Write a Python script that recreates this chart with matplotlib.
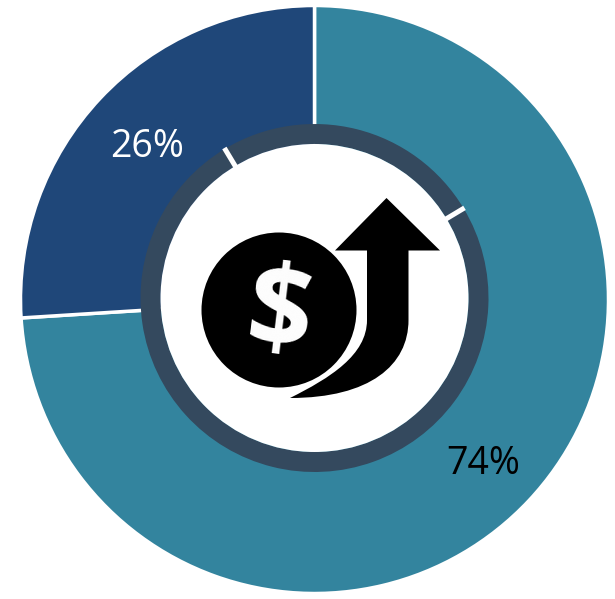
import matplotlib
matplotlib.use("Agg")
import matplotlib.pyplot as plt
import numpy as np
from matplotlib.patches import Circle, PathPatch
from matplotlib.path import Path

plt.rcParams['font.family'] = ['Open Sans', 'DejaVu Sans']

# share values
share_values = [74, 26]
share_labels = ['74%', '26%']
share_colors = ['#33849E', '#1F4779']
label_colors = ['black', 'white']

# thin ring round the icon, one quarter / three quarters
ring_values = [25, 75]

W, H = 615, 599


def py(y):
    # picture y (from the top) to axes y
    return H - y


fig = plt.figure(figsize=(W / 100, H / 100), dpi=100)
ax = fig.add_axes([0, 0, 1, 1])

# main doughnut
ax.pie(share_values, colors=share_colors, startangle=90, counterclock=False,
       center=(314.5, py(299.5)), radius=294, frame=False,
       wedgeprops={'edgecolor': 'white', 'linewidth': 2.5})

# ring and the white middle
ring_center = (314.5, py(298))
ring_outer, ring_inner = 174, 154
wedges, _ = ax.pie(ring_values, colors=['#34495E', '#34495E'], startangle=121,
                   counterclock=False, center=ring_center, radius=ring_outer,
                   frame=False, wedgeprops={'width': ring_outer - ring_inner, 'linewidth': 0})
ax.add_patch(Circle(ring_center, ring_inner, fc='white', ec='none', zorder=2))

# white cuts in the ring where the slices meet
for w in wedges:
    a = np.deg2rad(w.theta1)
    ax.plot([ring_center[0] + (ring_inner - 1) * np.cos(a), ring_center[0] + (ring_outer + 1) * np.cos(a)],
            [ring_center[1] + (ring_inner - 1) * np.sin(a), ring_center[1] + (ring_outer + 1) * np.sin(a)],
            color='white', lw=3.6, solid_capstyle='butt', zorder=3)

# arrow of the icon
arrow_verts = [(386.5, 198), (440, 250.5), (408.5, 250.5), (408.5, 320),
               (408.5, 365), (370, 398), (290, 398),
               (330, 378), (367, 355), (367, 320),
               (367, 250.5), (335, 250.5), (386.5, 198)]
arrow_codes = [Path.MOVETO, Path.LINETO, Path.LINETO, Path.LINETO,
               Path.CURVE4, Path.CURVE4, Path.CURVE4,
               Path.CURVE4, Path.CURVE4, Path.CURVE4,
               Path.LINETO, Path.LINETO, Path.CLOSEPOLY]
arrow = Path([(x, py(y)) for x, y in arrow_verts], arrow_codes)
ax.add_patch(PathPatch(arrow, fc='black', ec='none', zorder=4))

# coin
ax.add_patch(Circle((279, py(310)), 80, fc='white', ec='none', zorder=5))
ax.add_patch(Circle((279, py(310)), 77.5, fc='black', ec='none', zorder=6))
ax.text(279, py(318), '$', color='white', fontsize=82, fontweight='bold', rotation=-7,
        ha='center', va='center', zorder=7)

# percent labels
label_pos = [(483, 464), (147, 147)]
for txt, col, (x, y) in zip(share_labels, label_colors, label_pos):
    ax.text(x, py(y), txt, color=col, fontsize=27, ha='center', va='center', zorder=8)

ax.set_xlim(0, W)
ax.set_ylim(0, H)
ax.set_aspect('auto')
ax.axis('off')

fig.savefig('out.png', dpi=100, facecolor='white')
